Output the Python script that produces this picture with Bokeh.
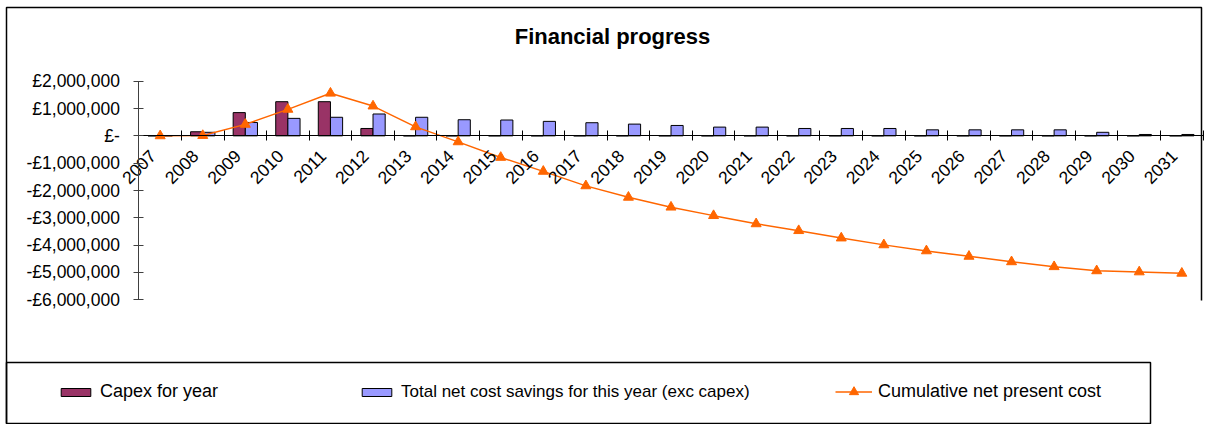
import math

from bokeh.embed import file_html
from bokeh.models import (BoxAnnotation, ColumnDataSource, FixedTicker, Label,
                          Legend, LegendItem, PolyAnnotation, Range1d)
from bokeh.plotting import figure
from bokeh.resources import INLINE
from bokeh.transform import dodge

# ---- data (GBP) ----
years = ["2007", "2008", "2009", "2010", "2011", "2012", "2013", "2014", "2015",
         "2016", "2017", "2018", "2019", "2020", "2021", "2022", "2023", "2024",
         "2025", "2026", "2027", "2028", "2029", "2030", "2031"]

capex = [0, 150000, 850000, 1250000, 1250000, 270000, 0, 0, 0,
         0, 0, 0, 0, 0, 0, 0, 0, 0,
         0, 0, 0, 0, 0, 0, 0]

savings = [0, 130000, 490000, 640000, 680000, 800000, 680000, 590000, 580000,
           530000, 480000, 430000, 380000, 320000, 320000, 270000, 270000, 270000,
           220000, 220000, 220000, 220000, 130000, 50000, 50000]

cumulative = [0, 10000, 420000, 970000, 1560000, 1090000, 330000, -220000, -790000,
              -1300000, -1830000, -2250000, -2610000, -2920000, -3220000, -3470000,
              -3740000, -3990000, -4210000, -4410000, -4610000, -4790000, -4940000,
              -4980000, -5030000]

y_ticks = [-6000000, -5000000, -4000000, -3000000, -2000000, -1000000, 0,
           1000000, 2000000]

FONT = "Liberation Sans"
CAPEX_COLOR = "#993366"
SAVINGS_COLOR = "#9999FF"
NPC_COLOR = "#FF6600"

# page geometry (pixels): canvas and the plot area inside the chart box
W, H = 1208, 424
PLOT_L, PLOT_R, PLOT_T, PLOT_B = 138.4, 1202.6, 80.7, 299.3


def money(v):
    """Accounting style: zero shown as a dash, negatives with a leading minus."""
    if v == 0:
        return "£-"
    s = f"£{abs(v):,.0f}"
    return "-" + s if v < 0 else s


n = len(years)
idx = list(range(n))
src = ColumnDataSource(dict(x=idx, year=years, capex=capex,
                            savings=savings, cum=cumulative))

# The frame covers the whole canvas; ranges are stretched so that the
# category/value area lands on the plot rectangle, axes are pinned inside.
ux = (PLOT_R - PLOT_L) / n
ymin, ymax = min(y_ticks), max(y_ticks)
uy = (PLOT_B - PLOT_T) / (ymax - ymin)
x_range = Range1d(-0.5 - PLOT_L / ux, -0.5 + (W - PLOT_L) / ux)
y_range = Range1d(ymin - (H - PLOT_B) / uy, ymax + PLOT_T / uy)

p = figure(width=W, height=H, output_backend="svg", toolbar_location=None,
           x_range=x_range, y_range=y_range, title=None, min_border=0)
p.grid.visible = False
p.outline_line_color = None
p.background_fill_color = "white"
p.border_fill_color = "white"

# clustered columns: two bars per year, gap of 1.5 bar widths
bar_w = 1 / 3.5
cap_r = p.vbar(x=dodge("x", -bar_w / 2), top="capex", width=bar_w, source=src,
               fill_color=CAPEX_COLOR, line_color="black", line_width=1)
sav_r = p.vbar(x=dodge("x", bar_w / 2), top="savings", width=bar_w, source=src,
               fill_color=SAVINGS_COLOR, line_color="black", line_width=1)

# cumulative net present cost
npc_line = p.line("x", "cum", source=src, line_color=NPC_COLOR, line_width=1.5)
npc_pts = p.scatter("x", "cum", source=src, marker="triangle", size=10,
                    fill_color=NPC_COLOR, line_color=NPC_COLOR)

# value axis, pinned to the left edge of the category area
yax = p.yaxis[0]
yax.fixed_location = -0.5
yax.bounds = (ymin, ymax)
yax.ticker = FixedTicker(ticks=y_ticks)
yax.major_label_overrides = {t: money(t) for t in y_ticks}
yax.major_label_text_font = FONT
yax.major_label_text_font_size = "17.5px"
yax.major_label_text_color = "black"
yax.major_label_standoff = 14
yax.axis_line_color = "#404040"
yax.major_tick_line_color = "#404040"
yax.major_tick_in = 5
yax.major_tick_out = 5
yax.minor_tick_line_color = None

# category axis sitting on the zero line, ticks between the years
label_shift = 0.18
label_pos = [i - label_shift for i in idx]
xax = p.xaxis[0]
xax.fixed_location = 0
xax.bounds = (-0.5, n - 0.5)
xax.ticker = FixedTicker(ticks=label_pos,
                         minor_ticks=[i - 0.5 for i in idx] + [n - 0.5])
xax.major_label_overrides = {pos: y for pos, y in zip(label_pos, years)}
xax.major_label_orientation = math.pi / 4
xax.major_label_text_font = FONT
xax.major_label_text_font_size = "17.5px"
xax.major_label_text_color = "black"
xax.major_label_standoff = 12
xax.major_tick_in = 0
xax.major_tick_out = 0
xax.minor_tick_in = 5
xax.minor_tick_out = 5
xax.minor_tick_line_color = "black"
xax.axis_line_color = "black"

# chart frame (open at the lower right) and legend box
p.add_layout(PolyAnnotation(
    xs=[1201, 1201, 6, 6, 6, 1201], ys=[300, 7, 7, 423, 7, 7],
    xs_units="canvas", ys_units="canvas",
    fill_color=None, fill_alpha=0, line_color="black", line_alpha=1,
    line_width=1.5))
p.add_layout(BoxAnnotation(left=6, right=1150, top=362, bottom=423,
                           left_units="canvas", right_units="canvas",
                           top_units="canvas", bottom_units="canvas",
                           fill_color=None, fill_alpha=0, line_color="black",
                           line_alpha=1, line_width=1.5))

p.add_layout(Label(x=612, y=36, x_units="canvas", y_units="canvas",
                   text="Financial progress", text_font=FONT,
                   text_font_style="bold", text_font_size="22px",
                   text_color="black", text_align="center",
                   text_baseline="middle"))

legend_style = dict(orientation="horizontal", border_line_color=None,
                    background_fill_alpha=0, padding=0, margin=0,
                    glyph_width=37, label_standoff=6, label_height=20,
                    label_text_font=FONT, label_text_color="black")

# one legend entry per series, laid out along the legend box
capex_legend = Legend(items=[LegendItem(label="Capex for year", renderers=[cap_r])],
                      location=(57, 22), glyph_height=10,
                      label_text_font_size="18px", **legend_style)
savings_legend = Legend(items=[LegendItem(
    label="Total net cost savings for this year (exc capex)", renderers=[sav_r])],
    location=(358, 22), glyph_height=10,
    label_text_font_size="17px", **legend_style)
# line series: taller glyph box so the marker reads at full size
npc_legend = Legend(items=[LegendItem(
    label="Cumulative net present cost", renderers=[npc_line, npc_pts])],
    location=(835, 21), glyph_height=23,
    label_text_font_size="18px", **legend_style)
for lg in (capex_legend, savings_legend, npc_legend):
    p.add_layout(lg)

open("out.html", "w").write(file_html(p, INLINE))
